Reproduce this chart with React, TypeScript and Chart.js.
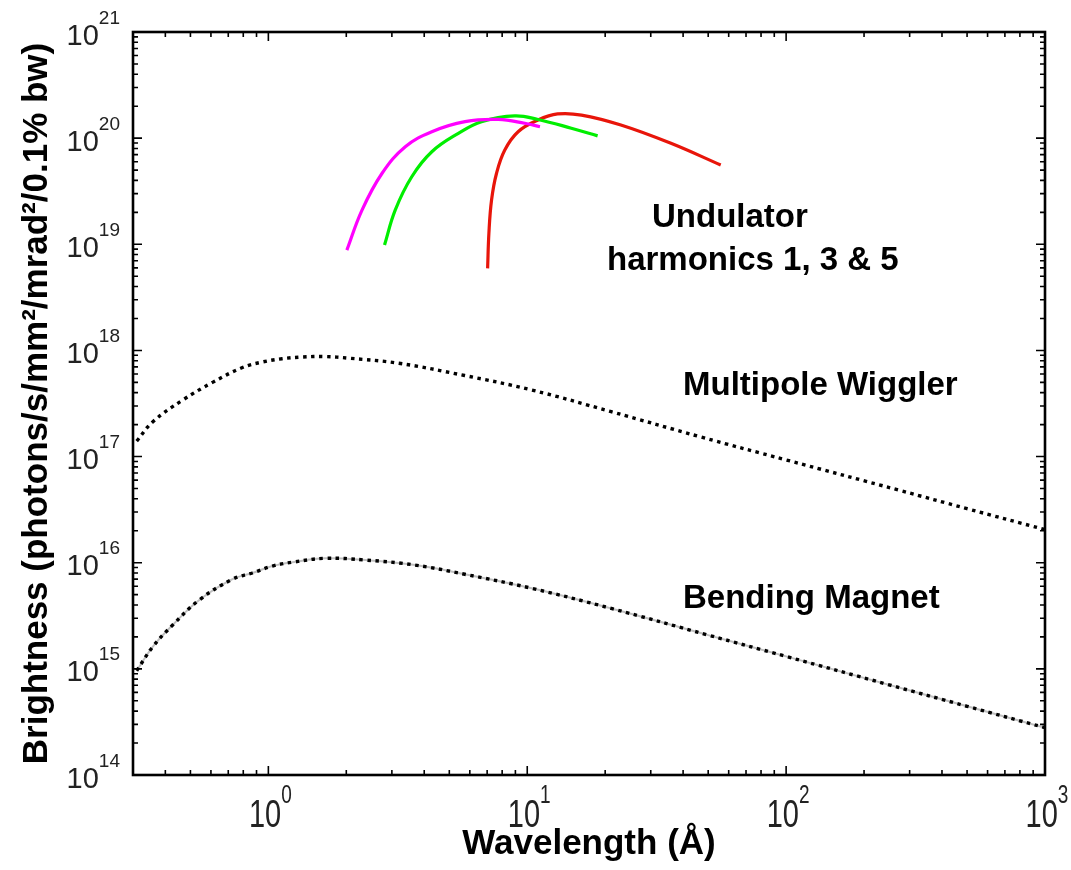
import React, { useEffect, useRef } from 'react';
import { Chart, registerables } from 'chart.js';

Chart.register(...registerables);

// ---- Axis ranges and tick values ----
const X_MIN = 0.31;
const X_MAX = 1000;
const Y_MIN = 1e14;
const Y_MAX = 1e21;
const xTickValues = [1, 10, 100, 1000];
const yTickValues = [1e14, 1e15, 1e16, 1e17, 1e18, 1e19, 1e20, 1e21];

// ---- Titles and annotations ----
const xTitle = 'Wavelength (Å)';
const yTitle = 'Brightness (photons/s/mm²/mrad²/0.1% bw)';
const labelUndulator1 = 'Undulator';
const labelUndulator2 = 'harmonics 1, 3 & 5';
const labelWiggler = 'Multipole Wiggler';
const labelBending = 'Bending Magnet';

// ---- Series data (wavelength in Å, brightness) ----
const wigglerWavelength = [0.31, 0.358, 0.467, 0.609, 0.794, 0.948, 1.13, 1.35, 1.65, 2.05, 3.19, 5.73, 10.4, 21.1, 46.8, 100, 275, 500, 1000];
const wigglerBrightness = [1.4e17, 2.13e17, 3.41e17, 5.0e17, 6.9e17, 7.78e17, 8.35e17, 8.67e17, 8.76e17, 8.45e17, 7.57e17, 5.8e17, 4.24e17, 2.65e17, 1.53e17, 9.3e16, 4.8e16, 3.23e16, 2.05e16];

const bendingWavelength = [0.31, 0.358, 0.427, 0.541, 0.727, 0.868, 1.036, 1.237, 1.66, 2.37, 3.69, 5.74, 10.4, 21.1, 50, 100, 250, 500, 1000];
const bendingBrightness = [9.6e14, 1.62e15, 2.59e15, 4.46e15, 7.0e15, 8.0e15, 9.3e15, 1.01e16, 1.1e16, 1.06e16, 9.5e15, 7.78e15, 5.74e15, 3.71e15, 2.08e15, 1.31e15, 7.07e14, 4.44e14, 2.79e14];

const harm5Wavelength = [2.01, 2.3, 2.75, 3.38, 4.28, 5.75, 7.73, 9.78, 11.2];
const harm5Brightness = [8.8e18, 2.1e19, 4.67e19, 8.3e19, 1.15e20, 1.43e20, 1.5e20, 1.38e20, 1.28e20];

const harm3Wavelength = [2.81, 3.09, 3.58, 4.28, 5.42, 6.66, 8.95, 11.0, 14.8, 18.7];
const harm3Brightness = [9.85e18, 2.1e19, 4.33e19, 7.45e19, 1.11e20, 1.43e20, 1.62e20, 1.5e20, 1.24e20, 1.05e20];

const harm1Wavelength = [7.03, 7.11, 7.28, 7.61, 8.19, 9.22, 11.0, 13.1, 16.2, 23.0, 35.9, 55.9];
const harm1Brightness = [5.93e18, 1.27e19, 2.61e19, 4.67e19, 7.73e19, 1.15e20, 1.48e20, 1.69e20, 1.65e20, 1.33e20, 8.94e19, 5.58e19];

const FONT = '"Liberation Sans", Arial, Helvetica, sans-serif';

const toPoints = (xs: number[], ys: number[]) => xs.map((x, i) => ({ x, y: ys[i] }));

const minorTicks = (min: number, max: number) => {
  const out: number[] = [];
  for (let d = Math.floor(Math.log10(min)); d <= Math.ceil(Math.log10(max)); d++) {
    for (let k = 2; k <= 9; k++) {
      const v = k * Math.pow(10, d);
      if (v >= min && v <= max) out.push(v);
    }
  }
  return out;
};

const framePlugin = {
  id: 'matlabFrame',
  afterDatasetsDraw(chart: any) {
    const { ctx, chartArea: a, scales } = chart;
    const xs = scales.x;
    const ys = scales.y;
    ctx.save();
    ctx.strokeStyle = '#000';
    // ticks (inward, all four sides)
    ctx.lineWidth = 1.6;
    ctx.beginPath();
    const xMinor = minorTicks(X_MIN, X_MAX);
    const yMinor = minorTicks(Y_MIN, Y_MAX);
    const xt = (v: number, L: number) => {
      const p = xs.getPixelForValue(v);
      ctx.moveTo(p, a.bottom); ctx.lineTo(p, a.bottom - L);
      ctx.moveTo(p, a.top); ctx.lineTo(p, a.top + L);
    };
    const yt = (v: number, L: number) => {
      const p = ys.getPixelForValue(v);
      ctx.moveTo(a.left, p); ctx.lineTo(a.left + L, p);
      ctx.moveTo(a.right, p); ctx.lineTo(a.right - L, p);
    };
    xMinor.forEach((v) => xt(v, 5));
    xTickValues.forEach((v) => xt(v, 9));
    yMinor.forEach((v) => yt(v, 5));
    yTickValues.forEach((v) => yt(v, 9));
    ctx.stroke();
    // box
    ctx.lineWidth = 2.6;
    ctx.strokeRect(a.left, a.top, a.right - a.left, a.bottom - a.top);

    // tick labels: 10 with superscript exponent
    ctx.fillStyle = '#222';
    ctx.textBaseline = 'alphabetic';
    ctx.textAlign = 'left';
    const baseFont = `29px ${FONT}`;
    const expFont = `19px ${FONT}`;
    yTickValues.forEach((v) => {
      const p = ys.getPixelForValue(v);
      const e = String(Math.round(Math.log10(v)));
      ctx.font = expFont;
      const ew = ctx.measureText(e).width;
      ctx.font = baseFont;
      const bw = ctx.measureText('10').width;
      const right = a.left - 13;
      ctx.fillText('10', right - ew - bw, p + 12.5);
      ctx.font = expFont;
      ctx.fillText(e, right - ew, p - 8.5);
    });
    xTickValues.forEach((v) => {
      const p = xs.getPixelForValue(v);
      const e = String(Math.round(Math.log10(v)));
      ctx.font = expFont;
      const ew = ctx.measureText(e).width;
      ctx.font = baseFont;
      const bw = ctx.measureText('10').width;
      const left = p + 2 - (bw + ew) / 2;
      ctx.save();
      ctx.translate(left, a.bottom + 52);
      ctx.scale(1, 1.35);
      ctx.font = baseFont;
      ctx.fillText('10', 0, 0);
      ctx.restore();
      ctx.save();
      ctx.translate(left + bw, a.bottom + 28);
      ctx.scale(1, 1.35);
      ctx.font = expFont;
      ctx.fillText(e, 0, 0);
      ctx.restore();
    });

    // annotations
    ctx.fillStyle = '#000';
    ctx.font = `bold 33px ${FONT}`;
    ctx.fillText(labelUndulator1, 652, 227);
    ctx.fillText(labelUndulator2, 607, 270);
    ctx.fillText(labelWiggler, 683, 395);
    ctx.fillText(labelBending, 683, 608);
    ctx.restore();
  },
};

export default function App() {
  const canvasRef = useRef<HTMLCanvasElement | null>(null);

  useEffect(() => {
    const canvas = canvasRef.current;
    if (!canvas) return;
    const lineBase = {
      pointRadius: 0,
      pointHoverRadius: 0,
      fill: false,
      tension: 0.4,
    };
    const chart = new Chart(canvas, {
      type: 'line',
      data: {
        datasets: [
          {
            ...lineBase,
            label: 'Bending Magnet (underlay)',
            data: toPoints(bendingWavelength, bendingBrightness),
            borderColor: 'rgba(0,0,0,0.25)',
            borderWidth: 2,
          },
          {
            ...lineBase,
            label: labelBending,
            data: toPoints(bendingWavelength, bendingBrightness),
            borderColor: '#000',
            borderWidth: 3.4,
            borderDash: [3.5, 4.5],
          },
          {
            ...lineBase,
            label: labelWiggler,
            data: toPoints(wigglerWavelength, wigglerBrightness),
            borderColor: '#000',
            borderWidth: 3.4,
            borderDash: [3.5, 4.5],
          },
          {
            ...lineBase,
            label: 'Harmonic 5',
            data: toPoints(harm5Wavelength, harm5Brightness),
            borderColor: '#ff00ff',
            borderWidth: 3.2,
          },
          {
            ...lineBase,
            label: 'Harmonic 3',
            data: toPoints(harm3Wavelength, harm3Brightness),
            borderColor: '#00ee00',
            borderWidth: 3.2,
          },
          {
            ...lineBase,
            label: 'Harmonic 1',
            data: toPoints(harm1Wavelength, harm1Brightness),
            borderColor: '#e8150a',
            borderWidth: 3.2,
          },
        ],
      },
      options: {
        responsive: false,
        animation: false,
        events: [],
        layout: { padding: { top: 32, right: 26, left: 0, bottom: 0 } },
        plugins: {
          legend: { display: false },
          tooltip: { enabled: false },
        },
        scales: {
          x: {
            type: 'logarithmic',
            position: 'bottom',
            min: X_MIN,
            max: X_MAX,
            afterBuildTicks: (s: any) => {
              s.ticks = xTickValues.map((value) => ({ value }));
            },
            afterFit: (s: any) => {
              s.height = 95;
            },
            ticks: { display: false },
            grid: { display: false, drawTicks: false },
            border: { display: false },
            title: {
              display: true,
              text: xTitle,
              color: '#000',
              font: { family: FONT, size: 35, weight: 'bold' },
              padding: { top: 0, bottom: 5 },
            },
          },
          y: {
            type: 'logarithmic',
            position: 'left',
            min: Y_MIN,
            max: Y_MAX,
            afterBuildTicks: (s: any) => {
              s.ticks = yTickValues.map((value) => ({ value }));
            },
            afterFit: (s: any) => {
              s.width = 133;
            },
            ticks: { display: false },
            grid: { display: false, drawTicks: false },
            border: { display: false },
            title: {
              display: true,
              text: yTitle,
              color: '#000',
              font: { family: FONT, size: 35, weight: 'bold' },
              padding: { top: 16, bottom: 0 },
            },
          },
        },
      },
      plugins: [framePlugin],
    } as any);
    return () => chart.destroy();
  }, []);

  return (
    <div style={{ position: 'fixed', left: 0, top: 0, width: 1071, height: 870, background: '#fff' }}>
      <canvas ref={canvasRef} width={1071} height={870} style={{ display: 'block' }} />
    </div>
  );
}
